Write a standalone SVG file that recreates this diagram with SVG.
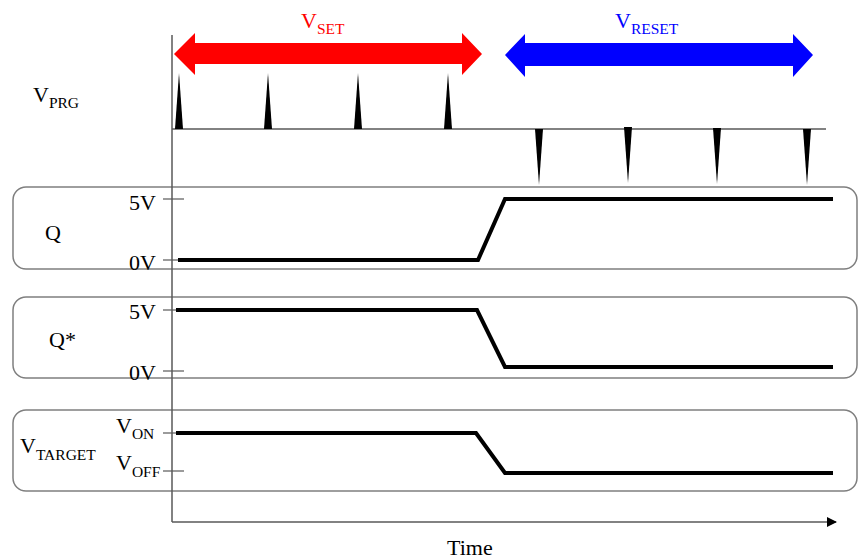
<svg xmlns="http://www.w3.org/2000/svg" width="858" height="559" viewBox="0 0 858 559">
<style>
text{font-family:"Liberation Serif","Times New Roman",serif;fill:#000}
.lbl{font-size:22px}
.sub{font-size:15.5px}
.box{fill:none;stroke:#7f7f7f;stroke-width:1.5}
.axis{stroke:#595959;stroke-width:1.5;fill:none}
.tick{stroke:#595959;stroke-width:1.2}
.wave{fill:none;stroke:#000;stroke-width:4;stroke-linejoin:miter}
.pulse{fill:#000}
</style>
<defs>
<marker id="ah" markerWidth="10" markerHeight="10" refX="9" refY="5" orient="auto" markerUnits="userSpaceOnUse">
<path d="M0,0 L10,5 L0,10 Z" fill="#000"/>
</marker>
</defs>
<g id="set-arrow">
<polygon points="174,54 195,33 195,43 462,43 462,33 482,54 462,75 462,64 195,64 195,75" fill="#ff0000"/>
<text x="301" y="28" class="lbl" style="fill:#ff0000">V<tspan class="sub" dy="6">SET</tspan></text>
</g>
<g id="reset-arrow">
<polygon points="505,55 525,34 525,43 793,43 793,34 813,55 793,77 793,66 525,66 525,77" fill="#0000ff"/>
<text x="615" y="28" class="lbl" style="fill:#0000ff">V<tspan class="sub" dy="6">RESET</tspan></text>
</g>
<g id="vprg">
<text x="33" y="102" class="lbl">V<tspan class="sub" dy="6">PRG</tspan></text>
<line x1="172" y1="129" x2="826" y2="129" class="axis"/>
<polygon class="pulse" points="175,129 179,73 183,129"/>
<polygon class="pulse" points="264,129 268,73 272,129"/>
<polygon class="pulse" points="354,129 358,73 362,129"/>
<polygon class="pulse" points="444,129 448,73 452,129"/>
<polygon class="pulse" points="535,129 539,185 543,129"/>
<polygon class="pulse" points="624,127 628,183 632,127"/>
<polygon class="pulse" points="713,128 717,184 721,128"/>
<polygon class="pulse" points="803,129 807,185 811,129"/>
</g>
<g id="q">
<rect x="13" y="187" width="844" height="82" rx="13" class="box"/>
<text x="45" y="240" class="lbl">Q</text>
<text x="156" y="210" class="lbl" text-anchor="end">5V</text>
<text x="156" y="270" class="lbl" text-anchor="end">0V</text>
<line x1="163" y1="199" x2="184" y2="199" class="tick"/>
<line x1="163" y1="260" x2="178" y2="260" class="tick"/>
<polyline class="wave" points="178,260 478,260 505,199 833,199"/>
</g>
<g id="qstar">
<rect x="13" y="297" width="844" height="81" rx="13" class="box"/>
<text x="49" y="347" class="lbl">Q*</text>
<text x="156" y="319" class="lbl" text-anchor="end">5V</text>
<text x="156" y="380" class="lbl" text-anchor="end">0V</text>
<line x1="163" y1="310" x2="176" y2="310" class="tick"/>
<line x1="163" y1="371" x2="184" y2="371" class="tick"/>
<polyline class="wave" points="176,310 477,310 505,367 833,367"/>
</g>
<g id="vtarget">
<rect x="13" y="410" width="844" height="81" rx="13" class="box"/>
<text x="20" y="453" class="lbl">V<tspan class="sub" dy="7">TARGET</tspan></text>
<text x="116" y="433" class="lbl">V<tspan class="sub" dy="6">ON</tspan></text>
<text x="116" y="470" class="lbl">V<tspan class="sub" dy="7">OFF</tspan></text>
<line x1="163" y1="433" x2="176" y2="433" class="tick"/>
<line x1="163" y1="471" x2="184" y2="471" class="tick"/>
<polyline class="wave" points="176,433 476,433 505,473 833,473"/>
</g>
<g id="axes">
<line x1="172" y1="35" x2="172" y2="522" class="axis"/>
<line x1="172" y1="522" x2="836" y2="522" class="axis" marker-end="url(#ah)"/>
<text x="447" y="555" class="lbl">Time</text>
</g>
</svg>
